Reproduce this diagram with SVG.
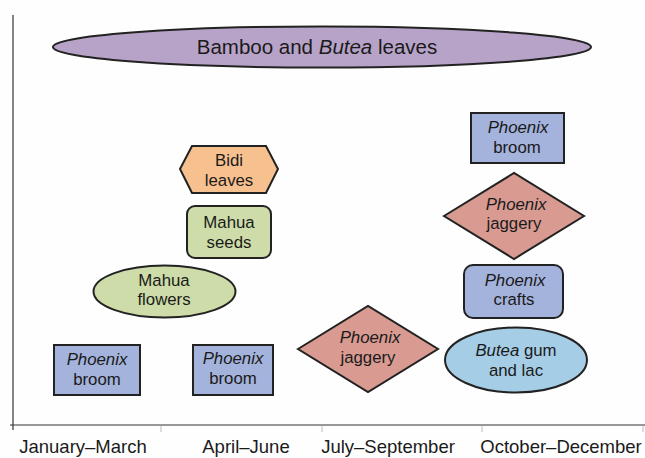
<svg xmlns="http://www.w3.org/2000/svg" width="645" height="458" viewBox="0 0 645 458">
<style>
text{font-family:"Liberation Sans",Arial,sans-serif;font-size:16.8px;fill:#1a1a1a;text-anchor:middle}
.n{stroke:#222;stroke-width:2}
.blue{fill:#a4b3dc}
.green{fill:#cddca8}
.pink{fill:#d99a92}
.ax{stroke:#333;stroke-width:1.2;fill:none}
.tick{stroke:#bbb;stroke-width:1}
.lab{font-size:18.5px}
</style>
<rect width="645" height="458" fill="#fefefe"/>
<g id="axes">
<line class="ax" x1="13" y1="15" x2="13" y2="430"/>
<line class="ax" x1="10" y1="425" x2="645" y2="425"/>
<line class="tick" x1="161" y1="426" x2="161" y2="432"/>
<line class="tick" x1="322" y1="426" x2="322" y2="432"/>
<line class="tick" x1="482" y1="426" x2="482" y2="432"/>
<line class="tick" x1="643" y1="426" x2="643" y2="432"/>
<text class="lab" x="83" y="453">January–March</text>
<text class="lab" x="246" y="453">April–June</text>
<text class="lab" x="388" y="453">July–September</text>
<text class="lab" x="561" y="453">October–December</text>
</g>
<g id="connectors"></g>
<g id="bamboo">
<ellipse class="n" cx="322" cy="47" rx="269" ry="20.5" fill="#b8a3c8"/>
<text x="317" y="54" style="font-size:20.5px">Bamboo and <tspan font-style="italic">Butea</tspan> leaves</text>
</g>
<g id="bidi">
<polygon class="n" points="180,169 192,146 266,146 278,169 266,193 192,193" fill="#f7c08f"/>
<text x="229" y="166">Bidi</text>
<text x="229" y="186">leaves</text>
</g>
<g id="mahua-seeds">
<rect class="n green" x="187" y="206" width="84" height="52" rx="8"/>
<text x="229" y="228">Mahua</text>
<text x="229" y="248">seeds</text>
</g>
<g id="mahua-flowers">
<ellipse class="n green" cx="164.5" cy="291.5" rx="71" ry="26"/>
<text x="164" y="286">Mahua</text>
<text x="164" y="305">flowers</text>
</g>
<g id="broom-jan">
<rect class="n blue" x="54" y="345" width="86" height="50"/>
<text x="97" y="365" font-style="italic">Phoenix</text>
<text x="97" y="385">broom</text>
</g>
<g id="broom-apr">
<rect class="n blue" x="193" y="345" width="80" height="50"/>
<text x="233" y="364" font-style="italic">Phoenix</text>
<text x="233" y="384">broom</text>
</g>
<g id="jaggery-jul">
<polygon class="n pink" points="298,349 368,306 438,349 368,392"/>
<text x="370" y="343" font-style="italic">Phoenix</text>
<text x="368" y="363">jaggery</text>
</g>
<g id="broom-oct">
<rect class="n blue" x="471" y="113" width="93" height="50"/>
<text x="518" y="133" font-style="italic">Phoenix</text>
<text x="517" y="153">broom</text>
</g>
<g id="jaggery-oct">
<polygon class="n pink" points="444,216 514,173 584,216 514,259"/>
<text x="516" y="210" font-style="italic">Phoenix</text>
<text x="514" y="229">jaggery</text>
</g>
<g id="crafts-oct">
<rect class="n blue" x="464" y="265" width="99" height="53" rx="9"/>
<text x="515" y="286" font-style="italic">Phoenix</text>
<text x="514" y="305">crafts</text>
</g>
<g id="butea-gum">
<ellipse class="n" cx="516" cy="360" rx="71" ry="32.5" fill="#a6cde6"/>
<text x="516" y="356"><tspan font-style="italic">Butea</tspan> gum</text>
<text x="516" y="376">and lac</text>
</g>
</svg>
